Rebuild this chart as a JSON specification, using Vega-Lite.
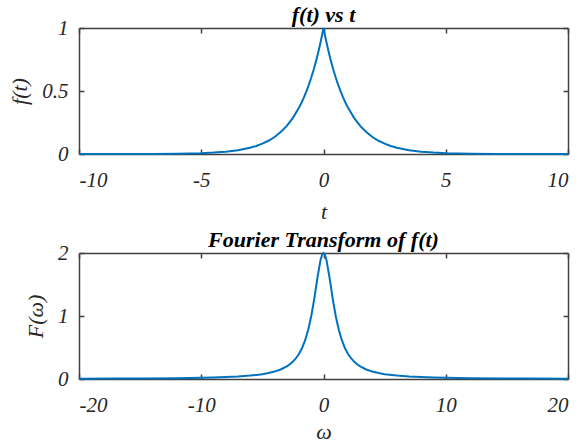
{
  "$schema": "https://vega.github.io/schema/vega-lite/v6.json",
  "background": "white",
  "padding": {"left": 8, "top": 4, "right": 2, "bottom": 0},
  "spacing": 7,
  "config": {
    "view": {"stroke": null},
    "axis": {
      "grid": false,
      "labelFont": "Liberation Serif",
      "labelFontStyle": "italic",
      "labelFontSize": 21,
      "labelColor": "#262626",
      "labelExpr": "toString(datum.value)",
      "titleFont": "Liberation Serif",
      "titleFontStyle": "italic",
      "titleFontWeight": "normal",
      "titleFontSize": 22,
      "titleColor": "#262626",
      "domainColor": "#404040",
      "domainWidth": 1.5,
      "tickColor": "#404040",
      "tickWidth": 1.5,
      "tickSize": -5,
      "labelPadding": 16
    },
    "axisX": {"labelPadding": 20},
    "title": {
      "font": "Liberation Serif",
      "fontStyle": "italic",
      "fontWeight": "bold",
      "fontSize": 22,
      "color": "#000000",
      "offset": -10
    }
  },
  "datasets": {
    "ft": [
      {"t": -10, "f": 0.00005}, {"t": -8, "f": 0.0003}, {"t": -7, "f": 0.0009}, {"t": -6, "f": 0.0025},
      {"t": -5, "f": 0.0067}, {"t": -4.5, "f": 0.011}, {"t": -4, "f": 0.018}, {"t": -3.5, "f": 0.030},
      {"t": -3, "f": 0.050}, {"t": -2.75, "f": 0.064}, {"t": -2.5, "f": 0.082}, {"t": -2.25, "f": 0.105},
      {"t": -2, "f": 0.135}, {"t": -1.75, "f": 0.174}, {"t": -1.5, "f": 0.223}, {"t": -1.25, "f": 0.287},
      {"t": -1, "f": 0.368}, {"t": -0.9, "f": 0.407}, {"t": -0.8, "f": 0.449}, {"t": -0.7, "f": 0.497},
      {"t": -0.6, "f": 0.549}, {"t": -0.5, "f": 0.607}, {"t": -0.4, "f": 0.670}, {"t": -0.3, "f": 0.741},
      {"t": -0.2, "f": 0.819}, {"t": -0.1, "f": 0.905}, {"t": 0, "f": 1.0},
      {"t": 0.1, "f": 0.905}, {"t": 0.2, "f": 0.819}, {"t": 0.3, "f": 0.741}, {"t": 0.4, "f": 0.670},
      {"t": 0.5, "f": 0.607}, {"t": 0.6, "f": 0.549}, {"t": 0.7, "f": 0.497}, {"t": 0.8, "f": 0.449},
      {"t": 0.9, "f": 0.407}, {"t": 1, "f": 0.368}, {"t": 1.25, "f": 0.287}, {"t": 1.5, "f": 0.223},
      {"t": 1.75, "f": 0.174}, {"t": 2, "f": 0.135}, {"t": 2.25, "f": 0.105}, {"t": 2.5, "f": 0.082},
      {"t": 2.75, "f": 0.064}, {"t": 3, "f": 0.050}, {"t": 3.5, "f": 0.030}, {"t": 4, "f": 0.018},
      {"t": 4.5, "f": 0.011}, {"t": 5, "f": 0.0067}, {"t": 6, "f": 0.0025}, {"t": 7, "f": 0.0009},
      {"t": 8, "f": 0.0003}, {"t": 10, "f": 0.00005}
    ],
    "fw": [
      {"w": -20, "F": 0.005}, {"w": -17, "F": 0.0069}, {"w": -15, "F": 0.0088}, {"w": -12, "F": 0.0138},
      {"w": -10, "F": 0.0198}, {"w": -9, "F": 0.0244}, {"w": -8, "F": 0.0308}, {"w": -7, "F": 0.04},
      {"w": -6, "F": 0.054}, {"w": -5, "F": 0.0769}, {"w": -4.5, "F": 0.094}, {"w": -4, "F": 0.1176},
      {"w": -3.5, "F": 0.1509}, {"w": -3, "F": 0.2}, {"w": -2.75, "F": 0.2338}, {"w": -2.5, "F": 0.2759},
      {"w": -2.25, "F": 0.3299}, {"w": -2, "F": 0.4}, {"w": -1.75, "F": 0.4923}, {"w": -1.5, "F": 0.6154},
      {"w": -1.25, "F": 0.7805}, {"w": -1, "F": 1.0}, {"w": -0.75, "F": 1.28}, {"w": -0.5, "F": 1.6},
      {"w": -0.25, "F": 1.882}, {"w": -0.1, "F": 1.98}, {"w": 0, "F": 2.0}, {"w": 0.1, "F": 1.98},
      {"w": 0.25, "F": 1.882}, {"w": 0.5, "F": 1.6}, {"w": 0.75, "F": 1.28}, {"w": 1, "F": 1.0},
      {"w": 1.25, "F": 0.7805}, {"w": 1.5, "F": 0.6154}, {"w": 1.75, "F": 0.4923}, {"w": 2, "F": 0.4},
      {"w": 2.25, "F": 0.3299}, {"w": 2.5, "F": 0.2759}, {"w": 2.75, "F": 0.2338}, {"w": 3, "F": 0.2},
      {"w": 3.5, "F": 0.1509}, {"w": 4, "F": 0.1176}, {"w": 4.5, "F": 0.094}, {"w": 5, "F": 0.0769},
      {"w": 6, "F": 0.054}, {"w": 7, "F": 0.04}, {"w": 8, "F": 0.0308}, {"w": 9, "F": 0.0244},
      {"w": 10, "F": 0.0198}, {"w": 12, "F": 0.0138}, {"w": 15, "F": 0.0088}, {"w": 17, "F": 0.0069},
      {"w": 20, "F": 0.005}
    ]
  },
  "vconcat": [
    {
      "width": 489,
      "height": 126,
      "title": "f(t) vs t",
      "data": {"name": "ft"},
      "layer": [
        {
          "mark": {"type": "line", "strokeOpacity": 0},
          "encoding": {
            "x": {"field": "t", "type": "quantitative", "scale": {"domain": [-10, 10], "nice": false},
                  "axis": {"orient": "top", "labels": false, "title": null, "values": [-10, -5, 0, 5, 10]}},
            "y": {"field": "f", "type": "quantitative", "scale": {"domain": [0, 1], "nice": false},
                  "axis": {"orient": "right", "labels": false, "title": null, "values": [0, 0.5, 1]}}
          }
        },
        {
          "mark": {"type": "line", "color": "#0072BD", "strokeWidth": 2},
          "encoding": {
            "x": {"field": "t", "type": "quantitative",
                  "axis": {"orient": "bottom", "title": "t", "values": [-10, -5, 0, 5, 10], "titlePadding": 11}},
            "y": {"field": "f", "type": "quantitative",
                  "axis": {"orient": "left", "title": "f(t)", "values": [0, 0.5, 1], "titlePadding": 10}}
          }
        }
      ],
      "resolve": {"axis": {"x": "independent", "y": "independent"}}
    },
    {
      "width": 489,
      "height": 126,
      "title": "Fourier Transform of f(t)",
      "data": {"name": "fw"},
      "layer": [
        {
          "mark": {"type": "line", "strokeOpacity": 0},
          "encoding": {
            "x": {"field": "w", "type": "quantitative", "scale": {"domain": [-20, 20], "nice": false},
                  "axis": {"orient": "top", "labels": false, "title": null, "values": [-20, -10, 0, 10, 20]}},
            "y": {"field": "F", "type": "quantitative", "scale": {"domain": [0, 2], "nice": false},
                  "axis": {"orient": "right", "labels": false, "title": null, "values": [0, 1, 2]}}
          }
        },
        {
          "mark": {"type": "line", "color": "#0072BD", "strokeWidth": 2},
          "encoding": {
            "x": {"field": "w", "type": "quantitative",
                  "axis": {"orient": "bottom", "title": "ω", "values": [-20, -10, 0, 10, 20], "titlePadding": 6}},
            "y": {"field": "F", "type": "quantitative",
                  "axis": {"orient": "left", "title": "F(ω)", "values": [0, 1, 2], "titlePadding": 10}}
          }
        }
      ],
      "resolve": {"axis": {"x": "independent", "y": "independent"}}
    }
  ]
}
